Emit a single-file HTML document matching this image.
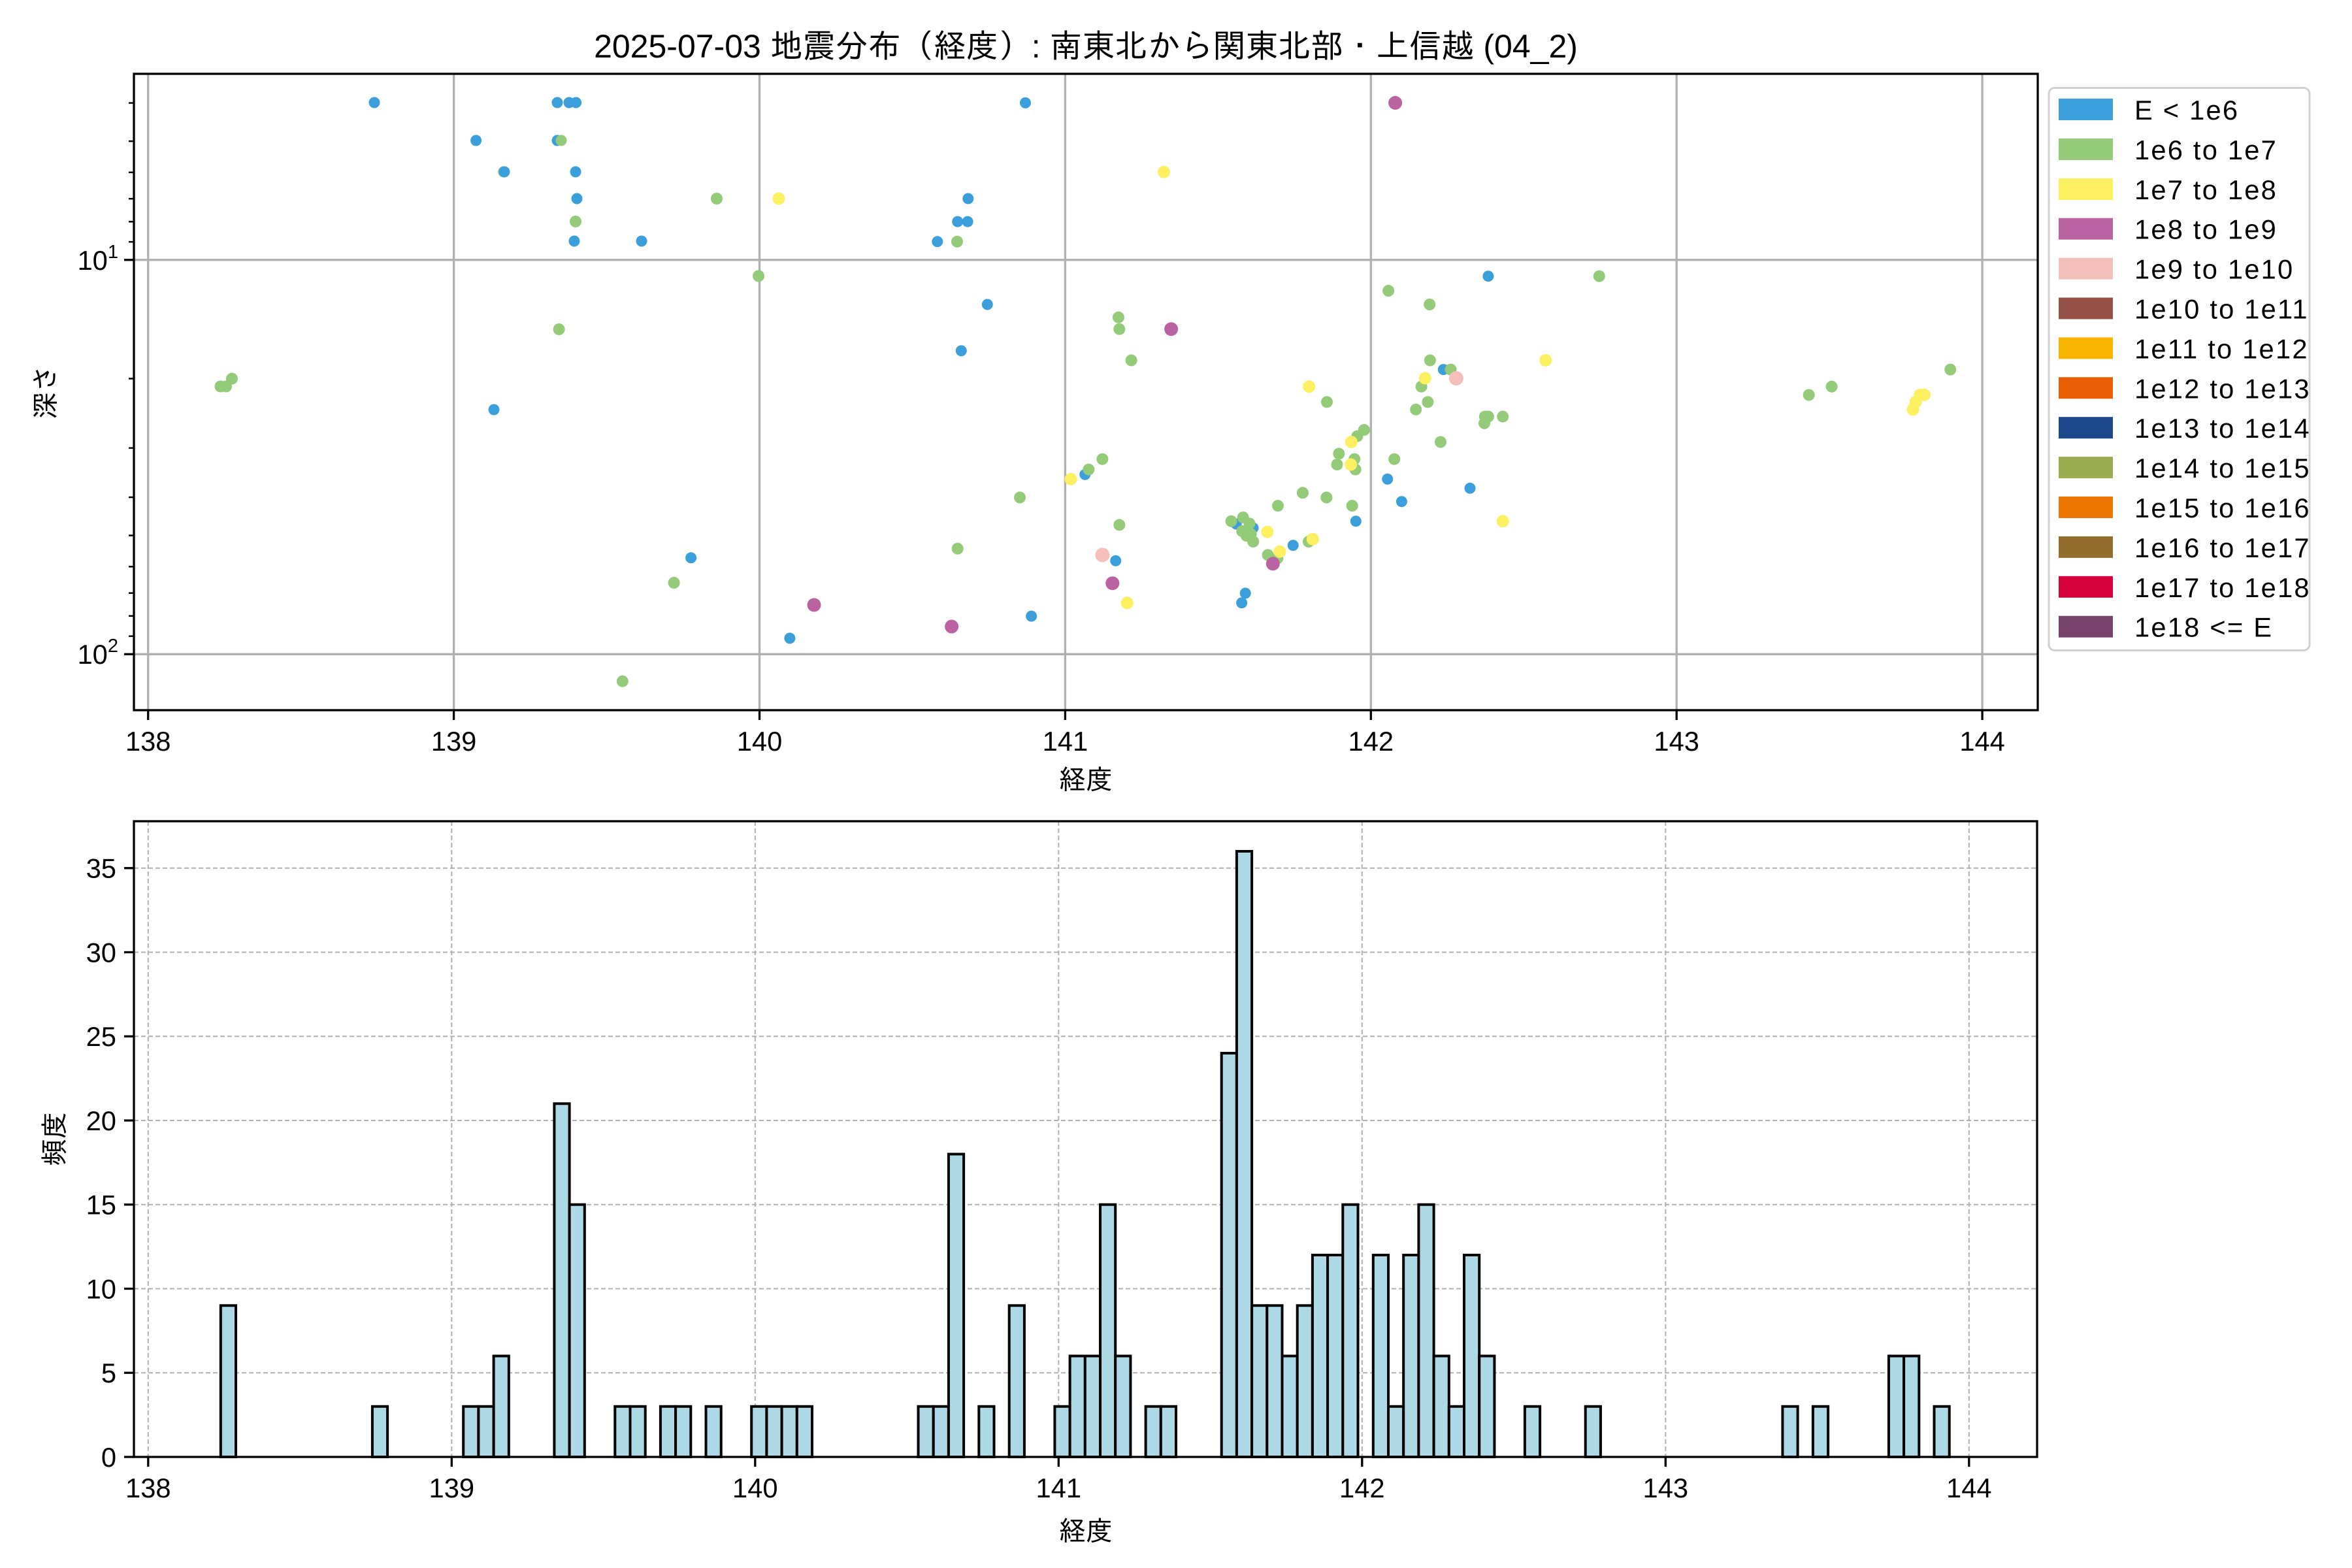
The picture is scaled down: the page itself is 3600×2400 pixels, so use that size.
<!DOCTYPE html>
<html><head><meta charset="utf-8"><style>
html,body{margin:0;padding:0;background:#fff;}
svg{display:block;font-family:"Liberation Sans","IPAGothic","Noto Sans CJK JP",sans-serif;}
</style></head><body>
<svg xmlns="http://www.w3.org/2000/svg" width="3600" height="2400" viewBox="0 0 3600 2400">
<rect width="3600" height="2400" fill="#fff"/>
<text x="1662" y="88" font-size="50" text-anchor="middle">2025-07-03 地震分布（経度）: 南東北から関東北部・上信越 (04_2)</text>

<!-- TOP AXES -->
<g stroke="#b0b0b0" stroke-width="3.3">
<line x1="226.7" y1="113" x2="226.7" y2="1087"/><line x1="694.6" y1="113" x2="694.6" y2="1087"/>
<line x1="1162.5" y1="113" x2="1162.5" y2="1087"/><line x1="1630.4" y1="113" x2="1630.4" y2="1087"/>
<line x1="2098.3" y1="113" x2="2098.3" y2="1087"/><line x1="2566.2" y1="113" x2="2566.2" y2="1087"/>
<line x1="3034.1" y1="113" x2="3034.1" y2="1087"/>
<line x1="205" y1="397.8" x2="3119" y2="397.8"/><line x1="205" y1="1001.3" x2="3119" y2="1001.3"/>
</g>
<g>
<g fill="#93cb78"><circle cx="770.7" cy="263" r="8.5"/></g>
<g fill="#3a9fdb">
<circle cx="573" cy="157" r="8.5"/><circle cx="728.6" cy="215" r="8.5"/>
<circle cx="772" cy="263" r="8.5"/>
<circle cx="853" cy="157" r="8.5"/><circle cx="871" cy="157" r="8.5"/><circle cx="881.6" cy="157" r="8.5"/>
<circle cx="853" cy="215" r="8.5"/><circle cx="881" cy="263" r="8.5"/><circle cx="883" cy="304" r="8.5"/>
<circle cx="879" cy="369" r="8.5"/><circle cx="982" cy="369" r="8.5"/><circle cx="756" cy="627" r="8.5"/>
<circle cx="1057.6" cy="853.8" r="8.5"/>
<circle cx="1569.5" cy="157.4" r="8.5"/><circle cx="1481.8" cy="304" r="8.5"/>
<circle cx="1465.7" cy="339.2" r="8.5"/><circle cx="1481.1" cy="339.2" r="8.5"/><circle cx="1434.8" cy="369.8" r="8.5"/>
<circle cx="1511.3" cy="466" r="8.5"/><circle cx="1471.3" cy="536.9" r="8.5"/>
<circle cx="1660.7" cy="726.3" r="8.5"/><circle cx="1707.7" cy="858.3" r="8.5"/>
<circle cx="1208.9" cy="976.9" r="8.5"/><circle cx="1578.6" cy="943.1" r="8.5"/>
<circle cx="1892.2" cy="802" r="8.5"/><circle cx="1918" cy="808" r="8.5"/>
<circle cx="1906.2" cy="908" r="8.5"/><circle cx="1900.6" cy="922.7" r="8.5"/>
<circle cx="1979.2" cy="834.7" r="8.5"/><circle cx="2075.3" cy="797.7" r="8.5"/>
<circle cx="2209.3" cy="565.6" r="8.5"/><circle cx="2123.7" cy="733.3" r="8.5"/><circle cx="2145.4" cy="767.7" r="8.5"/>
<circle cx="2250" cy="747.3" r="8.5"/><circle cx="2277.9" cy="422.7" r="8.5"/>
</g>
<g fill="#93cb78">
<circle cx="859" cy="215" r="8.5"/><circle cx="1097" cy="304" r="9"/>
<circle cx="881" cy="339" r="9"/><circle cx="1161" cy="422.5" r="9"/><circle cx="855.6" cy="504" r="9"/>
<circle cx="337.5" cy="591.5" r="9"/><circle cx="346" cy="591.5" r="9"/><circle cx="355" cy="579.6" r="9"/>
<circle cx="1031.6" cy="892" r="9"/><circle cx="952.8" cy="1042.7" r="9"/>
<circle cx="1465" cy="369.8" r="9"/>
<circle cx="1711.9" cy="485.8" r="9"/><circle cx="1713.3" cy="503.7" r="9"/><circle cx="1731.6" cy="551.5" r="9"/>
<circle cx="2031" cy="615.3" r="9"/><circle cx="1687.4" cy="702.7" r="9"/><circle cx="1666.3" cy="718.6" r="9"/>
<circle cx="1561" cy="761.4" r="9"/><circle cx="1713.3" cy="803.4" r="9"/><circle cx="1465.7" cy="839.8" r="9"/>
<circle cx="1884.5" cy="797.7" r="9"/><circle cx="1902.7" cy="792" r="9"/><circle cx="1912.5" cy="801.5" r="9"/>
<circle cx="1901.3" cy="813" r="9"/><circle cx="1918.2" cy="829" r="9"/><circle cx="1914.6" cy="817.5" r="9"/>
<circle cx="1908" cy="820" r="9"/>
<circle cx="1956" cy="774.1" r="9"/><circle cx="1940.6" cy="849.4" r="9"/><circle cx="1955.3" cy="854.5" r="9"/>
<circle cx="2003" cy="829" r="9"/><circle cx="1993.9" cy="754.3" r="9"/><circle cx="2030.4" cy="761.4" r="9"/>
<circle cx="2069.7" cy="774.1" r="9"/><circle cx="2046.5" cy="711" r="9"/><circle cx="2049.3" cy="694.4" r="9"/>
<circle cx="2073.2" cy="702.7" r="9"/><circle cx="2074.6" cy="718.6" r="9"/><circle cx="2077.4" cy="667.6" r="9"/>
<circle cx="2087.9" cy="658" r="9"/><circle cx="2125.1" cy="445" r="9"/><circle cx="2188.2" cy="466" r="9"/>
<circle cx="2188.9" cy="551.5" r="9"/><circle cx="2185.4" cy="615.3" r="9"/>
<circle cx="2175.6" cy="591.7" r="9"/><circle cx="2167.2" cy="626.8" r="9"/><circle cx="2205" cy="676.5" r="9"/>
<circle cx="2134.2" cy="702.7" r="9"/><circle cx="2220.5" cy="565.6" r="9"/>
<circle cx="2447.8" cy="422.7" r="9"/><circle cx="2272.9" cy="637.6" r="9"/><circle cx="2277.9" cy="637.6" r="9"/>
<circle cx="2272" cy="647.8" r="9"/><circle cx="2300.2" cy="637.6" r="9"/>
<circle cx="2768.7" cy="604.5" r="9"/><circle cx="2803.6" cy="591.7" r="9"/><circle cx="2985.2" cy="565.6" r="9"/>
</g>
<g fill="#fdf060">
<circle cx="1192" cy="304" r="9.5"/><circle cx="1781.4" cy="263.3" r="9.5"/><circle cx="2003.7" cy="591.7" r="9.5"/>
<circle cx="1639" cy="733.3" r="9.5"/><circle cx="1725.2" cy="922.7" r="9.5"/>
<circle cx="1939.9" cy="814.3" r="9.5"/><circle cx="1958.8" cy="844.3" r="9.5"/><circle cx="2009.3" cy="825.1" r="9.5"/>
<circle cx="2067.6" cy="711" r="9.5"/><circle cx="2068.3" cy="676.5" r="9.5"/><circle cx="2181.2" cy="579" r="9.5"/>
<circle cx="2365.8" cy="551.5" r="9.5"/><circle cx="2300.2" cy="797.7" r="9.5"/>
<circle cx="2928" cy="626.8" r="9.5"/><circle cx="2932.1" cy="615.3" r="9.5"/><circle cx="2938.7" cy="604.5" r="9.5"/><circle cx="2945.4" cy="604.5" r="9.5"/>
</g>
<g fill="#f5bfba">
<circle cx="1687.4" cy="849.4" r="11"/><circle cx="2228.9" cy="579" r="11"/>
</g>
<g fill="#bb62a2">
<circle cx="1792.6" cy="503.7" r="10.5"/><circle cx="1702.8" cy="892.7" r="10.5"/><circle cx="1246" cy="925.9" r="10.5"/>
<circle cx="1456.6" cy="959" r="10.5"/><circle cx="1948.3" cy="862.8" r="10.5"/><circle cx="2135.6" cy="157.4" r="10.5"/>
</g>
</g>
<rect x="205" y="113" width="2914" height="974" fill="none" stroke="#000" stroke-width="3.3"/>
<g stroke="#000" stroke-width="3.3">
<line x1="226.7" y1="1087" x2="226.7" y2="1102"/><line x1="694.6" y1="1087" x2="694.6" y2="1102"/>
<line x1="1162.5" y1="1087" x2="1162.5" y2="1102"/><line x1="1630.4" y1="1087" x2="1630.4" y2="1102"/>
<line x1="2098.3" y1="1087" x2="2098.3" y2="1102"/><line x1="2566.2" y1="1087" x2="2566.2" y2="1102"/>
<line x1="3034.1" y1="1087" x2="3034.1" y2="1102"/>
<line x1="190" y1="397.8" x2="205" y2="397.8"/><line x1="190" y1="1001.3" x2="205" y2="1001.3"/>
</g>
<g stroke="#000" stroke-width="2.5">
<line x1="197" y1="157.6" x2="205" y2="157.6"/><line x1="197" y1="216.1" x2="205" y2="216.1"/>
<line x1="197" y1="263.8" x2="205" y2="263.8"/><line x1="197" y1="304.2" x2="205" y2="304.2"/>
<line x1="197" y1="339.3" x2="205" y2="339.3"/><line x1="197" y1="370.2" x2="205" y2="370.2"/>
<line x1="197" y1="579.5" x2="205" y2="579.5"/><line x1="197" y1="685.7" x2="205" y2="685.7"/>
<line x1="197" y1="761.1" x2="205" y2="761.1"/><line x1="197" y1="819.6" x2="205" y2="819.6"/>
<line x1="197" y1="867.3" x2="205" y2="867.3"/><line x1="197" y1="907.7" x2="205" y2="907.7"/>
<line x1="197" y1="942.8" x2="205" y2="942.8"/><line x1="197" y1="973.7" x2="205" y2="973.7"/>
</g>
<g font-size="41.7" text-anchor="middle">
<text x="226.7" y="1149">138</text><text x="694.6" y="1149">139</text><text x="1162.5" y="1149">140</text>
<text x="1630.4" y="1149">141</text><text x="2098.3" y="1149">142</text><text x="2566.2" y="1149">143</text>
<text x="3034.1" y="1149">144</text>
<text x="1662" y="1208">経度</text>
</g>
<g font-size="41.7" text-anchor="end">
<text x="181" y="413">10<tspan font-size="29" dy="-18">1</tspan></text>
<text x="181" y="1016">10<tspan font-size="29" dy="-18">2</tspan></text>
</g>
<text transform="translate(84,600) rotate(-90)" font-size="41.7" text-anchor="middle">深さ</text>

<!-- LEGEND -->
<rect x="3136" y="134.5" width="399" height="861" rx="9" fill="#fff" stroke="#d0d0d0" stroke-width="3"/>
<g>
<rect x="3151" y="151" width="83" height="33" fill="#3a9fdb"/>
<rect x="3151" y="212" width="83" height="33" fill="#93cb78"/>
<rect x="3151" y="273" width="83" height="33" fill="#fdf060"/>
<rect x="3151" y="333.7" width="83" height="33" fill="#bb62a2"/>
<rect x="3151" y="394.6" width="83" height="33" fill="#f5bfba"/>
<rect x="3151" y="455.5" width="83" height="33" fill="#955048"/>
<rect x="3151" y="516.4" width="83" height="33" fill="#f7b500"/>
<rect x="3151" y="577.3" width="83" height="33" fill="#e95f05"/>
<rect x="3151" y="638.2" width="83" height="33" fill="#1c478d"/>
<rect x="3151" y="699.1" width="83" height="33" fill="#9cad50"/>
<rect x="3151" y="760" width="83" height="33" fill="#ef7805"/>
<rect x="3151" y="820.9" width="83" height="33" fill="#936d2b"/>
<rect x="3151" y="881.8" width="83" height="33" fill="#d8003a"/>
<rect x="3151" y="942.7" width="83" height="33" fill="#77416d"/>
</g>
<g font-size="41.7" letter-spacing="2.2">
<text x="3267" y="183">E &lt; 1e6</text>
<text x="3267" y="244">1e6 to 1e7</text>
<text x="3267" y="305">1e7 to 1e8</text>
<text x="3267" y="365.7">1e8 to 1e9</text>
<text x="3267" y="426.6">1e9 to 1e10</text>
<text x="3267" y="487.5">1e10 to 1e11</text>
<text x="3267" y="548.4">1e11 to 1e12</text>
<text x="3267" y="609.3">1e12 to 1e13</text>
<text x="3267" y="670.2">1e13 to 1e14</text>
<text x="3267" y="731.1">1e14 to 1e15</text>
<text x="3267" y="792">1e15 to 1e16</text>
<text x="3267" y="852.9">1e16 to 1e17</text>
<text x="3267" y="913.8">1e17 to 1e18</text>
<text x="3267" y="974.7">1e18 &lt;= E</text>
</g>

<!-- BOTTOM AXES -->
<g stroke="#b0b0b0" stroke-width="2" stroke-dasharray="7,4">
<line x1="226.8" y1="1257" x2="226.8" y2="2230"/><line x1="691.3" y1="1257" x2="691.3" y2="2230"/>
<line x1="1155.8" y1="1257" x2="1155.8" y2="2230"/><line x1="1620.3" y1="1257" x2="1620.3" y2="2230"/>
<line x1="2084.8" y1="1257" x2="2084.8" y2="2230"/><line x1="2549.3" y1="1257" x2="2549.3" y2="2230"/>
<line x1="3013.8" y1="1257" x2="3013.8" y2="2230"/>
<line x1="205" y1="2101.25" x2="3118" y2="2101.25"/><line x1="205" y1="1972.5" x2="3118" y2="1972.5"/>
<line x1="205" y1="1843.75" x2="3118" y2="1843.75"/><line x1="205" y1="1715" x2="3118" y2="1715"/>
<line x1="205" y1="1586.25" x2="3118" y2="1586.25"/><line x1="205" y1="1457.5" x2="3118" y2="1457.5"/>
<line x1="205" y1="1328.75" x2="3118" y2="1328.75"/>
</g>
<g fill="#add8e6" stroke="#000" stroke-width="4">
<rect x="337.8" y="1998.25" width="23.21" height="231.75"/>
<rect x="569.9" y="2152.75" width="23.21" height="77.25"/>
<rect x="709.2" y="2152.75" width="23.21" height="77.25"/>
<rect x="732.4" y="2152.75" width="23.21" height="77.25"/>
<rect x="755.6" y="2075.5" width="23.21" height="154.5"/>
<rect x="848.4" y="1689.25" width="23.21" height="540.75"/>
<rect x="871.6" y="1843.75" width="23.21" height="386.25"/>
<rect x="941.3" y="2152.75" width="23.21" height="77.25"/>
<rect x="964.5" y="2152.75" width="23.21" height="77.25"/>
<rect x="1010.9" y="2152.75" width="23.21" height="77.25"/>
<rect x="1034.1" y="2152.75" width="23.21" height="77.25"/>
<rect x="1080.5" y="2152.75" width="23.21" height="77.25"/>
<rect x="1150.2" y="2152.75" width="23.21" height="77.25"/>
<rect x="1173.4" y="2152.75" width="23.21" height="77.25"/>
<rect x="1196.6" y="2152.75" width="23.21" height="77.25"/>
<rect x="1219.8" y="2152.75" width="23.21" height="77.25"/>
<rect x="1405.5" y="2152.75" width="23.21" height="77.25"/>
<rect x="1428.7" y="2152.75" width="23.21" height="77.25"/>
<rect x="1451.9" y="1766.5" width="23.21" height="463.5"/>
<rect x="1498.3" y="2152.75" width="23.21" height="77.25"/>
<rect x="1544.7" y="1998.25" width="23.21" height="231.75"/>
<rect x="1614.4" y="2152.75" width="23.21" height="77.25"/>
<rect x="1637.6" y="2075.5" width="23.21" height="154.5"/>
<rect x="1660.8" y="2075.5" width="23.21" height="154.5"/>
<rect x="1684.0" y="1843.75" width="23.21" height="386.25"/>
<rect x="1707.2" y="2075.5" width="23.21" height="154.5"/>
<rect x="1753.6" y="2152.75" width="23.21" height="77.25"/>
<rect x="1776.8" y="2152.75" width="23.21" height="77.25"/>
<rect x="1869.7" y="1612" width="23.21" height="618"/>
<rect x="1892.9" y="1303" width="23.21" height="927"/>
<rect x="1916.1" y="1998.25" width="23.21" height="231.75"/>
<rect x="1939.3" y="1998.25" width="23.21" height="231.75"/>
<rect x="1962.5" y="2075.5" width="23.21" height="154.5"/>
<rect x="1985.7" y="1998.25" width="23.21" height="231.75"/>
<rect x="2008.9" y="1921" width="23.21" height="309"/>
<rect x="2032.1" y="1921" width="23.21" height="309"/>
<rect x="2055.3" y="1843.75" width="23.21" height="386.25"/>
<rect x="2101.8" y="1921" width="23.21" height="309"/>
<rect x="2125.0" y="2152.75" width="23.21" height="77.25"/>
<rect x="2148.2" y="1921" width="23.21" height="309"/>
<rect x="2171.4" y="1843.75" width="23.21" height="386.25"/>
<rect x="2194.6" y="2075.5" width="23.21" height="154.5"/>
<rect x="2217.8" y="2152.75" width="23.21" height="77.25"/>
<rect x="2241.0" y="1921" width="23.21" height="309"/>
<rect x="2264.2" y="2075.5" width="23.21" height="154.5"/>
<rect x="2333.9" y="2152.75" width="23.21" height="77.25"/>
<rect x="2426.7" y="2152.75" width="23.21" height="77.25"/>
<rect x="2728.4" y="2152.75" width="23.21" height="77.25"/>
<rect x="2774.9" y="2152.75" width="23.21" height="77.25"/>
<rect x="2890.9" y="2075.5" width="23.21" height="154.5"/>
<rect x="2914.1" y="2075.5" width="23.21" height="154.5"/>
<rect x="2960.5" y="2152.75" width="23.21" height="77.25"/>
</g>
<rect x="205" y="1257" width="2913" height="973" fill="none" stroke="#000" stroke-width="3.3"/>
<g stroke="#000" stroke-width="3.3">
<line x1="226.8" y1="2230" x2="226.8" y2="2245"/><line x1="691.3" y1="2230" x2="691.3" y2="2245"/>
<line x1="1155.8" y1="2230" x2="1155.8" y2="2245"/><line x1="1620.3" y1="2230" x2="1620.3" y2="2245"/>
<line x1="2084.8" y1="2230" x2="2084.8" y2="2245"/><line x1="2549.3" y1="2230" x2="2549.3" y2="2245"/>
<line x1="3013.8" y1="2230" x2="3013.8" y2="2245"/>
<line x1="190" y1="2230" x2="205" y2="2230"/><line x1="190" y1="2101.25" x2="205" y2="2101.25"/>
<line x1="190" y1="1972.5" x2="205" y2="1972.5"/><line x1="190" y1="1843.75" x2="205" y2="1843.75"/>
<line x1="190" y1="1715" x2="205" y2="1715"/><line x1="190" y1="1586.25" x2="205" y2="1586.25"/>
<line x1="190" y1="1457.5" x2="205" y2="1457.5"/><line x1="190" y1="1328.75" x2="205" y2="1328.75"/>
</g>
<g font-size="41.7" text-anchor="middle">
<text x="226.8" y="2292">138</text><text x="691.3" y="2292">139</text><text x="1155.8" y="2292">140</text>
<text x="1620.3" y="2292">141</text><text x="2084.8" y="2292">142</text><text x="2549.3" y="2292">143</text>
<text x="3013.8" y="2292">144</text>
<text x="1662" y="2358">経度</text>
</g>
<g font-size="41.7" text-anchor="end">
<text x="178" y="2245">0</text><text x="178" y="2116">5</text><text x="178" y="1987.5">10</text>
<text x="178" y="1858.5">15</text><text x="178" y="1730">20</text><text x="178" y="1601">25</text>
<text x="178" y="1472.5">30</text><text x="178" y="1343.5">35</text>
</g>
<text transform="translate(98,1743) rotate(-90)" font-size="41.7" text-anchor="middle">頻度</text>
</svg>
</body></html>
